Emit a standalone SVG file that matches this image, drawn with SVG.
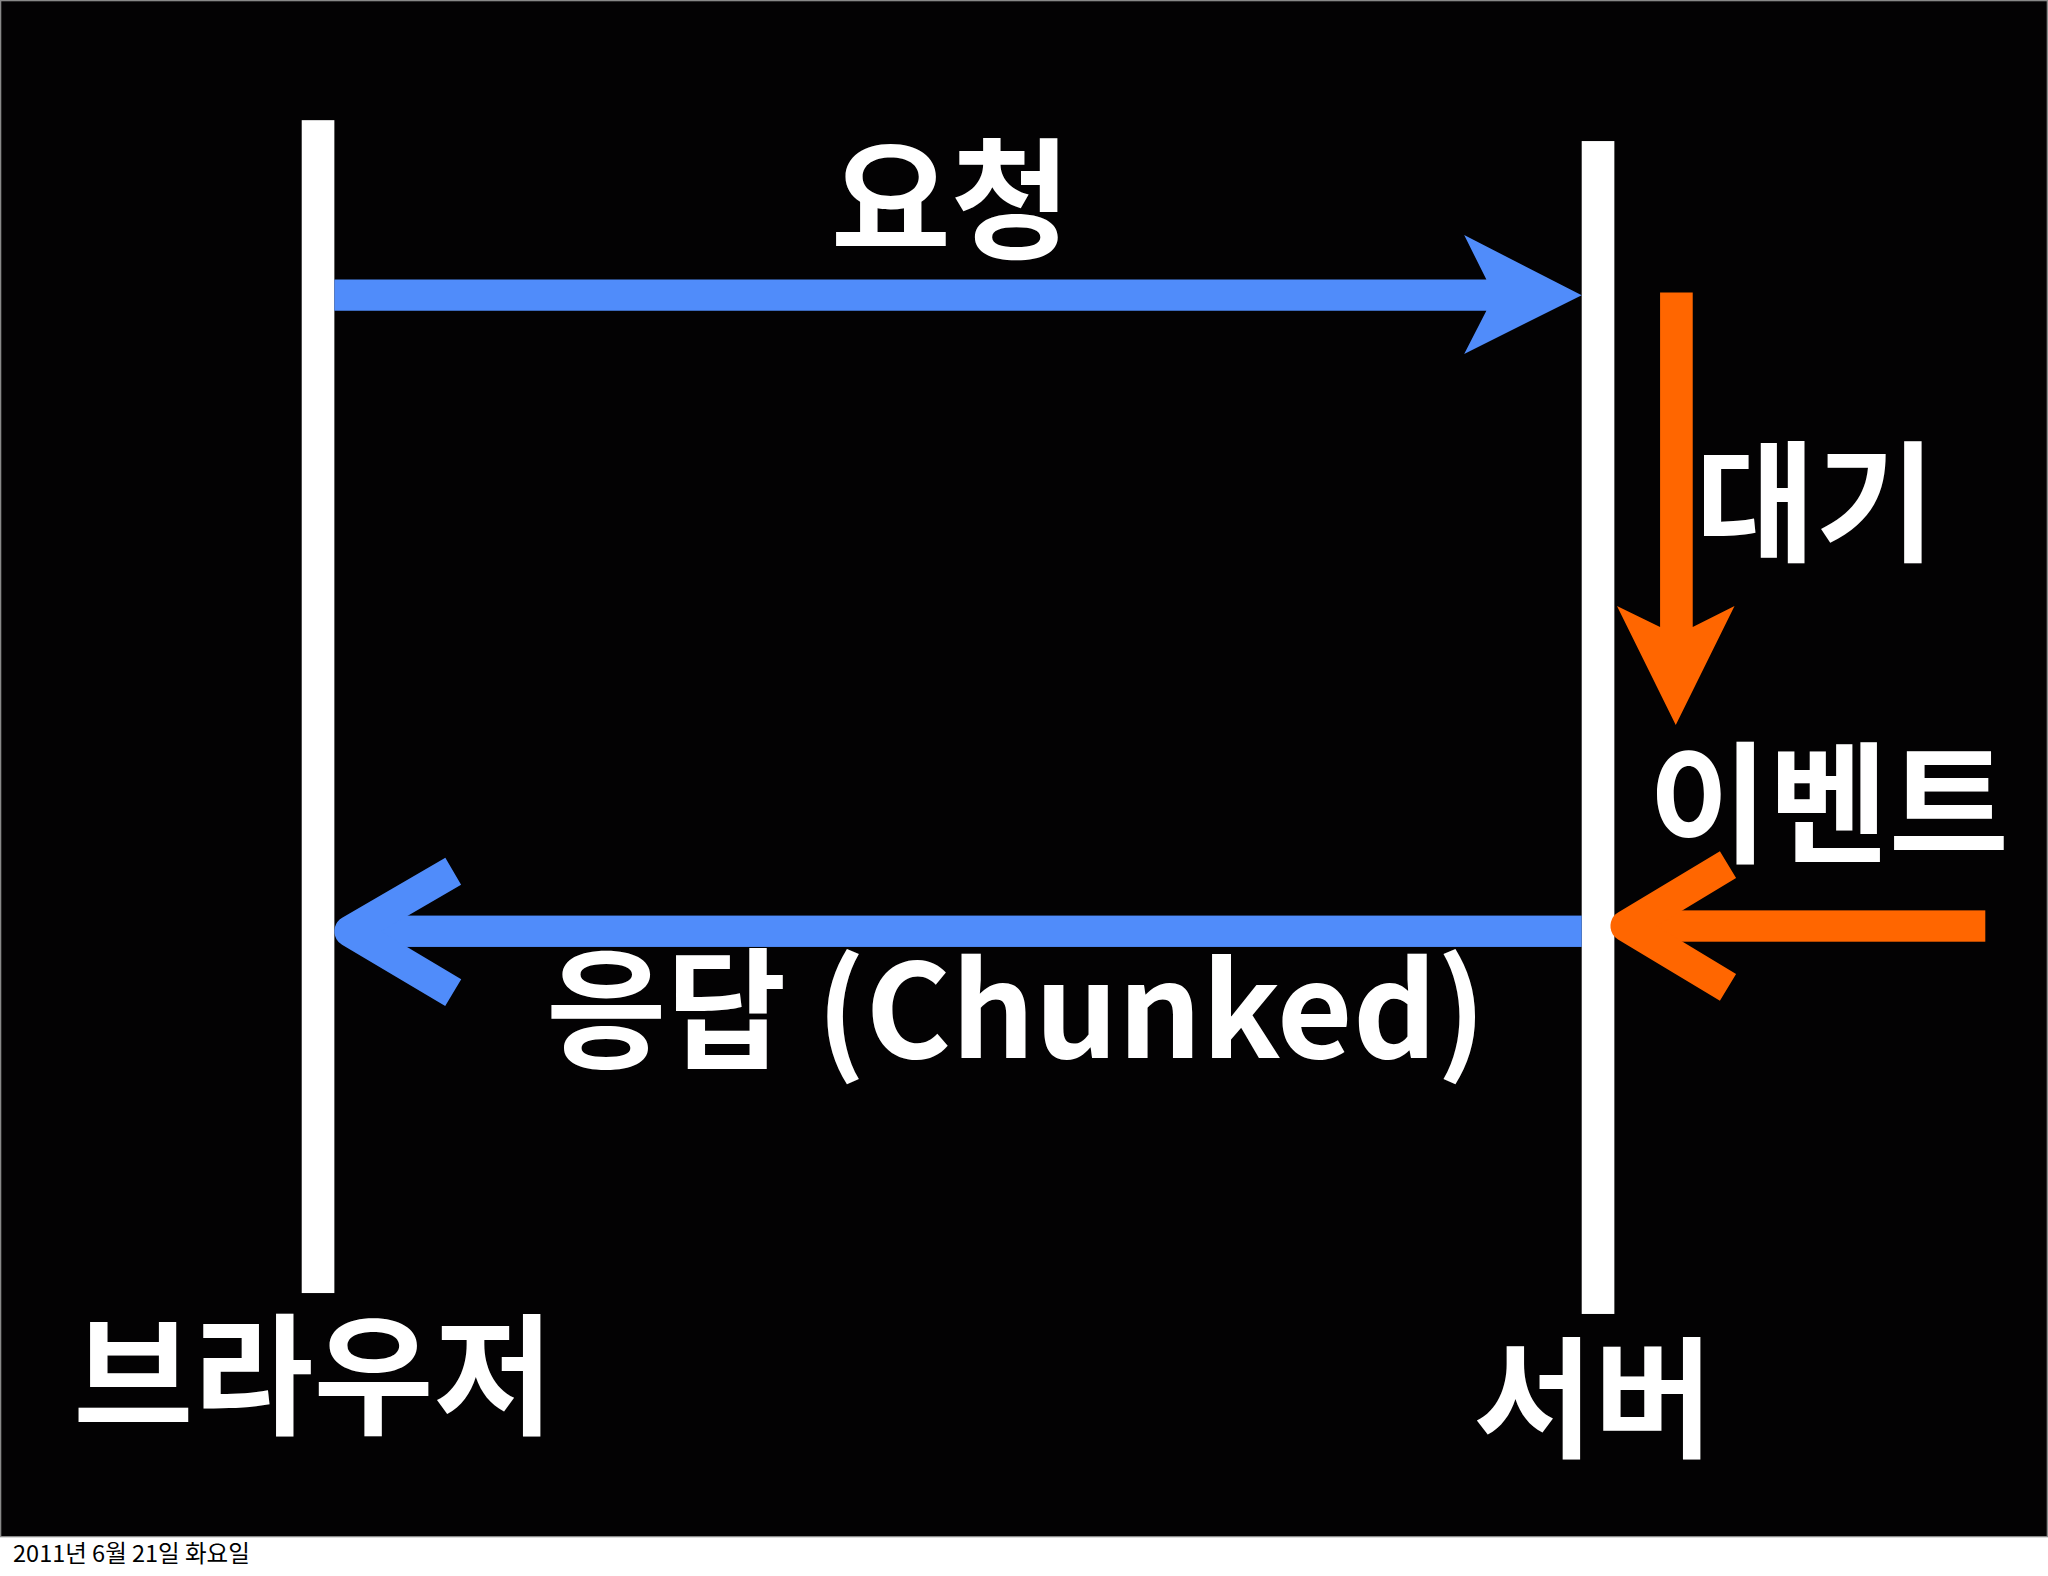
<svg xmlns="http://www.w3.org/2000/svg" width="2048" height="1576" viewBox="0 0 2048 1576">
<style>
.t{fill:#fff;font-family:"Noto Sans CJK KR","Noto Sans",sans-serif;font-weight:bold}
.blue{fill:#508cfa}.orange{fill:#ff6600}
.chev{fill:none;stroke-width:24;stroke-linejoin:round;stroke-linecap:butt}
</style>
<rect width="2048" height="1576" fill="#fff"/>
<g transform="scale(1.30612)">
<rect x="0.5" y="0.5" width="1567" height="1176" fill="#030203" stroke="#888"/>
<g id="browser"><rect x="231" y="92" width="25" height="898" fill="#fff"/>
<text class="t" x="240" y="1090" font-size="100" text-anchor="middle">브라우저</text></g>
<g id="server"><rect x="1211" y="108" width="25" height="898" fill="#fff"/>
<text class="t" x="1220" y="1108" font-size="100" text-anchor="middle">서버</text></g>
<g id="connectors">
<path class="blue" d="M256,214H1138L1121,180L1211,226L1121,271L1138,238H256Z"/>
<text class="t" x="728" y="190" font-size="100" text-anchor="middle">요청</text>
<path class="orange" d="M1271,224H1296V480L1328,464L1283,555L1238,464L1271,480Z"/>
<text class="t" x="1390" y="422" font-size="100" text-anchor="middle">대기</text>
<text class="t" x="1400" y="652" font-size="100" text-anchor="middle">이벤트</text>
<rect class="blue" x="275" y="701" width="936" height="24"/>
<polyline class="chev" stroke="#508cfa" points="347,667 268,713 347,760"/>
<rect class="orange" x="1255" y="697" width="265" height="24"/>
<polyline class="chev" stroke="#ff6600" points="1323,662 1245,709 1323,756"/>
<text class="t" x="778" y="810" font-size="100" text-anchor="middle">응답 (Chunked)</text>
</g>
<text x="10" y="1196" font-size="18" fill="#000" font-family="'Noto Sans CJK KR',sans-serif">2011년 6월 21일 화요일</text>
</g>
</svg>
